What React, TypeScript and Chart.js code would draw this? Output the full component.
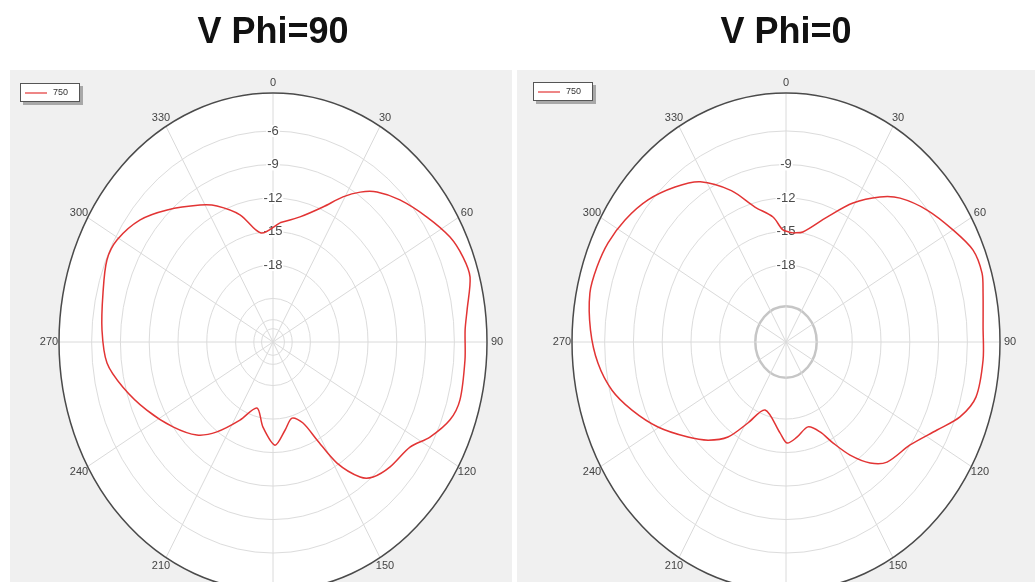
import React, { useEffect, useRef } from 'react';
import { Chart, registerables } from 'chart.js';

Chart.register(...registerables);

// ---------- data ----------
const TITLE_PHI90 = 'V Phi=90';
const TITLE_PHI0 = 'V Phi=0';
const SERIES_LABEL = '750';
const SERIES_COLOR = 'rgb(226,52,52)';
const ANGLE_TICKS = [0, 30, 60, 90, 120, 150, 180, 210, 240, 270, 300, 330];

// radial scale bounds (dB): centre and outer ring
const R_MIN = -24.9;
const R_MAX = -2.6;

// ring values (dB) and labelled ticks
const rings90 = [-6, -9, -12, -15, -18, -21, -22.9, -23.7];
const tickLabels90 = [-6, -9, -12, -15, -18];
const rings0 = [-6, -9, -12, -15, -18, -21.7];
const strongRings0 = [-21.7];
const tickLabels0 = [-9, -12, -15, -18];

// V Phi=90 : angle (deg, clockwise from top) and gain (dB)
const phi90Angles = [3.9, 14.1, 23.3, 29.3, 34.1, 38.9, 46.1, 55.1, 63.0, 69.0, 74.2, 81.9, 86.9, 94.6,
  104.9, 110.7, 117.5, 123.4, 132.5, 139.2, 143.1, 148.4, 152.4, 156.7, 163.8, 171.0, 178.7, 187.8,
  195.8, 206.2, 216.0, 223.6, 233.9, 245.1, 255.5, 263.8, 273.4, 283.9, 293.0, 299.4, 308.3, 317.0,
  328.2, 334.4, 343.2, 352.7];
const phi90Gain = [-14.2, -13.35, -11.74, -10.0, -8.69, -7.64, -6.55, -5.34, -4.2, -3.69, -3.56, -4.47, -4.85, -4.83,
  -4.74, -5.18, -6.46, -7.8, -8.35, -8.93, -9.78, -12.17, -15.0, -17.0, -17.8, -16.9, -15.66, -17.2,
  -18.76, -17.1, -14.95, -13.4, -12.0, -10.4, -8.75, -7.5, -7.05, -6.65, -6.1, -6.26, -7.26, -8.73,
  -10.47, -11.39, -13.0, -15.06];

// V Phi=0
const phi0Angles = [4.3, 10.1, 20.9, 29.3, 37.0, 42.7, 51.2, 60.0, 67.1, 73.2, 77.9, 86.3, 94.5, 104.0,
  110.3, 116.6, 125.5, 135.6, 141.0, 146.6, 151.5, 156.2, 163.2, 172.4, 179.3, 184.4, 199.7, 208.7,
  215.4, 222.7, 230.2, 240.3, 249.2, 256.6, 264.5, 273.0, 282.1, 288.8, 295.6, 303.1, 311.5, 320.2,
  328.1, 337.2, 345.0, 353.1, 358.2];
const phi0Gain = [-15.1, -14.89, -12.92, -10.63, -8.64, -7.37, -6.04, -4.81, -3.74, -3.56, -3.9, -4.32, -4.3, -4.5,
  -5.57, -7.3, -9.02, -9.85, -10.96, -12.77, -14.6, -16.1, -16.96, -16.3, -15.85, -16.74, -18.43, -16.63,
  -14.46, -12.94, -11.6, -9.54, -7.73, -6.26, -5.21, -4.5, -4.0, -4.09, -4.34, -4.88, -5.7, -6.84,
  -8.0, -10.2, -12.39, -13.62, -14.86];

// ---------- helpers ----------
const FONT = '"Liberation Sans", Arial, sans-serif';
const SPAN = R_MAX - R_MIN;

function toPoints(angles: number[], gains: number[]) {
  const pts = angles.map((a, i) => {
    const r = gains[i] - R_MIN;
    const t = (a * Math.PI) / 180;
    return { x: r * Math.sin(t), y: r * Math.cos(t) };
  });
  pts.push(pts[0]);
  return pts;
}

const panelPlugin = {
  id: 'panelBg',
  beforeDraw(chart: any, _a: any, opts: any) {
    const { ctx } = chart;
    ctx.save();
    ctx.fillStyle = '#f0f0f0';
    ctx.fillRect(opts.left, opts.top, opts.right - opts.left, chart.height - opts.top);
    ctx.restore();
  },
};

const polarGridPlugin = {
  id: 'polarGrid',
  beforeDatasetsDraw(chart: any, _a: any, opts: any) {
    const { ctx } = chart;
    const xs = chart.scales.x;
    const ys = chart.scales.y;
    const cx = xs.getPixelForValue(0);
    const cy = ys.getPixelForValue(0);
    const rx = xs.getPixelForValue(SPAN) - cx;
    const ry = cy - ys.getPixelForValue(SPAN);
    ctx.save();
    ctx.beginPath();
    ctx.ellipse(cx, cy, rx, ry, 0, 0, Math.PI * 2);
    ctx.fillStyle = '#ffffff';
    ctx.fill();

    // rings
    for (const db of opts.rings as number[]) {
      const r = db - R_MIN;
      const prx = xs.getPixelForValue(r) - cx;
      const pry = cy - ys.getPixelForValue(r);
      ctx.beginPath();
      ctx.ellipse(cx, cy, prx, pry, 0, 0, Math.PI * 2);
      const strong = (opts.strong || []).includes(db);
      ctx.strokeStyle = strong ? '#c6c6c6' : '#dcdcdc';
      ctx.lineWidth = strong ? 2.5 : 1;
      ctx.stroke();
    }
    // spokes
    ctx.strokeStyle = '#dadada';
    ctx.lineWidth = 1;
    for (const a of ANGLE_TICKS) {
      const t = (a * Math.PI) / 180;
      ctx.beginPath();
      ctx.moveTo(cx, cy);
      ctx.lineTo(cx + rx * Math.sin(t), cy - ry * Math.cos(t));
      ctx.stroke();
    }
    // dB labels along 0° spoke
    ctx.font = `13px ${FONT}`;
    ctx.textAlign = 'center';
    ctx.textBaseline = 'middle';
    for (const db of opts.labels as number[]) {
      const y = ys.getPixelForValue(db - R_MIN);
      const txt = String(db);
      const w = ctx.measureText(txt).width;
      ctx.fillStyle = '#ffffff';
      ctx.fillRect(cx - w / 2 - 1, y - 6, w + 2, 12);
      ctx.fillStyle = '#4a4a4a';
      ctx.fillText(txt, cx, y);
    }
    // outer border
    ctx.beginPath();
    ctx.ellipse(cx, cy, rx, ry, 0, 0, Math.PI * 2);
    ctx.strokeStyle = '#4a4a4a';
    ctx.lineWidth = 1.5;
    ctx.stroke();
    // angle labels
    ctx.font = `11px ${FONT}`;
    ctx.fillStyle = '#444444';
    for (const a of ANGLE_TICKS) {
      const t = (a * Math.PI) / 180;
      ctx.fillText(String(a), cx + (rx + 10) * Math.sin(t), cy - (ry + 10) * Math.cos(t));
    }
    ctx.restore();
  },
};

const legendPlugin = {
  id: 'boxLegend',
  afterDraw(chart: any, _a: any, opts: any) {
    const { ctx } = chart;
    const ds = chart.data.datasets[0];
    const x = opts.x;
    const y = opts.y;
    const w = 60;
    const h = 19;
    ctx.save();
    ctx.fillStyle = '#a8a8a8';
    ctx.fillRect(x + 3, y + 3, w, h);
    ctx.fillStyle = '#ffffff';
    ctx.fillRect(x, y, w, h);
    ctx.strokeStyle = '#555555';
    ctx.lineWidth = 1;
    ctx.strokeRect(x + 0.5, y + 0.5, w - 1, h - 1);
    ctx.strokeStyle = SERIES_COLOR;
    ctx.lineWidth = 1.2;
    ctx.beginPath();
    ctx.moveTo(x + 5, y + 10);
    ctx.lineTo(x + 27, y + 10);
    ctx.stroke();
    ctx.fillStyle = '#333333';
    ctx.font = `9px ${FONT}`;
    ctx.textBaseline = 'middle';
    ctx.textAlign = 'left';
    ctx.fillText(ds.label, x + 33, y + h / 2 + 0.5);
    ctx.restore();
  },
};

type PanelProps = {
  left: number;
  width: number;
  title: string;
  angles: number[];
  gains: number[];
  rings: number[];
  labels: number[];
  strong: number[];
  padLeft: number;
  padRight: number;
  panelLeft: number;
  panelRight: number;
  legendX: number;
  legendY: number;
};

const HEIGHT = 600;

function PolarPanel(p: PanelProps) {
  const ref = useRef<HTMLCanvasElement | null>(null);
  useEffect(() => {
    if (!ref.current) return;
    const chart = new Chart(ref.current, {
      type: 'scatter',
      data: {
        datasets: [
          {
            label: SERIES_LABEL,
            data: toPoints(p.angles, p.gains),
            showLine: true,
            borderColor: SERIES_COLOR,
            backgroundColor: SERIES_COLOR,
            borderWidth: 1.5,
            pointRadius: 0,
            tension: 0.3,
            fill: false,
          },
        ],
      },
      options: {
        responsive: false,
        animation: false,
        devicePixelRatio: 1,
        layout: { padding: { left: p.padLeft, right: p.padRight, top: 0, bottom: HEIGHT - 591 } },
        scales: {
          x: { type: 'linear', min: -SPAN, max: SPAN, display: false },
          y: { type: 'linear', min: -SPAN, max: SPAN, display: false },
        },
        plugins: {
          legend: { display: false },
          tooltip: { enabled: false },
          title: {
            display: true,
            text: p.title,
            color: '#111111',
            font: { family: FONT, size: 36, weight: 'bold', lineHeight: 1.2 },
            padding: { top: 11, bottom: 38.8 },
          },
          panelBg: { left: p.panelLeft, right: p.panelRight, top: 70 },
          polarGrid: { rings: p.rings, labels: p.labels, strong: p.strong },
          boxLegend: { x: p.legendX, y: p.legendY },
        } as any,
      },
      plugins: [panelPlugin, polarGridPlugin, legendPlugin],
    });
    return () => chart.destroy();
  }, []);
  return (
    <canvas
      ref={ref}
      width={p.width}
      height={HEIGHT}
      style={{ position: 'absolute', left: p.left, top: 0, width: p.width, height: HEIGHT }}
    />
  );
}

export default function App() {
  return (
    <div
      style={{
        position: 'fixed',
        left: 0,
        top: 0,
        width: 1035,
        height: 582,
        overflow: 'hidden',
        background: '#ffffff',
      }}
    >
      <PolarPanel
        left={0}
        width={514}
        title={TITLE_PHI90}
        angles={phi90Angles}
        gains={phi90Gain}
        rings={rings90}
        labels={tickLabels90}
        strong={[]}
        padLeft={59}
        padRight={27}
        panelLeft={10}
        panelRight={512}
        legendX={20}
        legendY={83}
      />
      <PolarPanel
        left={514}
        width={521}
        title={TITLE_PHI0}
        angles={phi0Angles}
        gains={phi0Gain}
        rings={rings0}
        labels={tickLabels0}
        strong={strongRings0}
        padLeft={58}
        padRight={35}
        panelLeft={3}
        panelRight={521}
        legendX={19}
        legendY={82}
      />
    </div>
  );
}
